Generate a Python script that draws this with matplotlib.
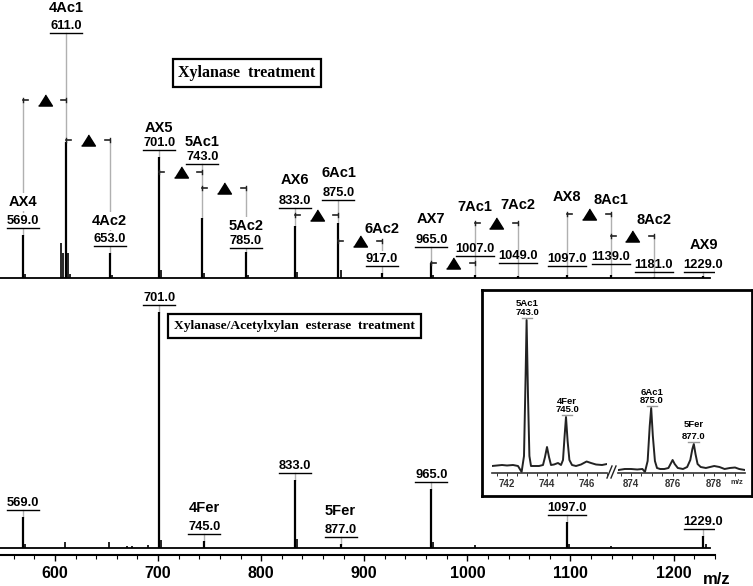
"""MALDI-TOF spectra of arabinoxylan oligomers: xylanase vs xylanase/acetylxylan esterase."""

import matplotlib.pyplot as plt
from matplotlib.ticker import MultipleLocator

plt.rcParams["font.family"] = ["Liberation Sans", "DejaVu Sans"]

# --- data ----------------------------------------------------------------
top_mz = [569, 611, 653, 701, 743, 785, 833, 875, 917, 965, 1007, 1049, 1097, 1139, 1181, 1229]
top_intensity = [43, 136, 25, 121, 60, 26, 52, 55, 5, 15, 3, 2, 3, 3, 1, 2]
top_names = ["AX4", "4Ac1", "4Ac2", "AX5", "5Ac1", "5Ac2", "AX6", "6Ac1",
             "6Ac2", "AX7", "7Ac1", "7Ac2", "AX8", "8Ac1", "8Ac2", "AX9"]
top_minor_mz = [571, 606, 607.5, 612.5, 615, 655, 703, 745, 787, 835, 877, 967]
top_minor_intensity = [4, 35, 25, 25, 4, 3, 8, 5, 3, 6, 8, 3]
acetyl_pairs = [(569, 611), (611, 653), (701, 743), (743, 785), (833, 875),
                (875, 917), (965, 1007), (1007, 1049), (1097, 1139), (1139, 1181)]

bottom_mz = [569, 701, 745, 833, 877, 965, 1097, 1229]
bottom_intensity = [31, 236, 7, 68, 4, 59, 26, 12]
bottom_names = ["", "", "4Fer", "", "5Fer", "", "", ""]
bottom_minor_mz = [571, 610, 652, 670, 675, 690, 703, 835, 967, 1007, 1099, 1139, 1231]
bottom_minor_intensity = [4, 6, 6, 2, 2, 3, 8, 9, 6, 3, 4, 2, 4]

inset_left_mz = [741.25, 741.5, 741.75, 742.0, 742.3, 742.55, 742.73, 742.85, 742.93,
                 742.98, 743.05, 743.12, 743.2, 743.4, 743.6, 743.8, 743.9, 744.0,
                 744.1, 744.2, 744.35, 744.55, 744.7, 744.8, 744.88, 744.95, 745.03,
                 745.12, 745.25, 745.45, 745.7, 745.98, 746.2, 746.45, 746.75, 747.0]
inset_left_signal = [0, 0.5, 1, 0.5, 1, 0, -6, 10, 90, 146, 70, 10, 0, 0, 0, 1, 9, 19,
                     9, 1, 1.5, 3, 1, 6, 30, 49, 25, 6, 1, 0, 1.5, 4.5, 3, 1.5, 1, 2]
inset_right_mz = [873.4, 873.7, 874.0, 874.3, 874.55, 874.67, 874.8, 874.9, 874.97,
                  875.05, 875.15, 875.25, 875.4, 875.6, 875.8, 875.9, 876.0, 876.1,
                  876.25, 876.5, 876.7, 876.85, 876.95, 877.02, 877.1, 877.2, 877.35,
                  877.6, 877.8, 878.0, 878.25, 878.5, 878.75, 879.0, 879.2, 879.48]
inset_right_signal = [-4, -3, -3, -3.5, -3, -6, 5, 40, 58, 30, 5, -2, -3, -3, -2, 2, 6, 2,
                      -2, -3, -1, 6, 17, 22, 12, 2, -1, -2, -1, 0, -1, -3, -2, -1.5, -3, -4]
inset_mz = [743, 745, 875, 877]
inset_names = ["5Ac1", "4Fer", "6Ac1", "5Fer"]

# --- layout (label heights, bracket heights) ------------------------------
top_name_y = [77, 271, 58, 151, 137, 53, 99, 106, 50, 60, 72, 74, 82, 79, 59, 34]
top_underline_y = [50, 245, 32, 128, 114, 30, 70, 78, 12, 31, 22, 15, 12, 14, 6, 6]
top_masked = [569, 653, 785, 917]
bracket_y = [178, 138, 106, 90, 63, 37, 15, 55, 64, 42]
inset_name_y = [160, 62, 71, 39]
inset_underline_y = [148, 51, 60, 24]

W, H = 753, 586
PX = 1.031  # pixels per m/z unit on the main axis
MASK = dict(facecolor="white", edgecolor="none", pad=1.5)


def fig_rect(x0, y0, x1, y1):
    """Pixel box (top-left origin) to figure-fraction rect."""
    return [x0 / W, 1 - y1 / H, (x1 - x0) / W, (y1 - y0) / H]


def draw_sticks(ax, mz, inten, minor_mz, minor_inten):
    ax.plot([546.7, 1235], [0, 0], color="black", lw=1.3, zorder=2)
    ax.vlines(mz, 0, inten, color="black", lw=1.6, zorder=2)
    ax.vlines(minor_mz, 0, minor_inten, color="black", lw=1.2, zorder=2)


def draw_label(ax, mz, y_under, name, name_base, mask=False, size=9.3, name_size=10.5):
    num = f"{mz:.1f}"
    half = (3 * len(num) + 1) / PX
    ax.plot([mz - half, mz + half], [y_under, y_under], color="black", lw=1.0, zorder=4)
    kw = dict(ha="center", va="baseline", fontweight="bold", zorder=3)
    if mask:
        kw["bbox"] = MASK
    ax.text(mz, y_under + 4, num, fontsize=size, **kw)
    if name:
        ax.text(mz, name_base, name, fontsize=name_size, **kw)


def draw_bracket(ax, left, right, y):
    d = 5 / PX
    ax.plot([left, left + d], [y, y], color="#222222", lw=1.2, zorder=3)
    ax.plot([right - d, right], [y, y], color="#222222", lw=1.2, zorder=3)
    ax.plot([left, left], [y - 2, y + 2], color="#222222", lw=1.0, zorder=3)
    ax.plot([right, right], [y - 2, y + 2], color="#222222", lw=1.0, zorder=3)
    tri = [(-1, -0.8), (1, -0.8), (0, 0.8)]
    ax.plot((left + right) / 2, y, marker=tri, ms=10, color="black", zorder=3)


fig = plt.figure(figsize=(W / 100, H / 100), dpi=100)

# top spectrum: xylanase treatment
ax_top = fig.add_axes(fig_rect(0, 0, 715, 285))
ax_top.set_xlim(546.7, 1240.2)
ax_top.set_ylim(-7, 278)
ax_top.axis("off")
draw_sticks(ax_top, top_mz, top_intensity, top_minor_mz, top_minor_intensity)
for mz, inten, name, ny, uy in zip(top_mz, top_intensity, top_names, top_name_y, top_underline_y):
    tops = [uy] + [by for (l, r), by in zip(acetyl_pairs, bracket_y) if mz in (l, r)]
    ax_top.plot([mz, mz], [inten, max(tops)], color="#b0b0b0", lw=1.0, zorder=1)
    draw_label(ax_top, mz, uy, name, ny - 5, mask=mz in top_masked)
for (left, right), by in zip(acetyl_pairs, bracket_y):
    draw_bracket(ax_top, left, right, by)
ax_top.text(786, 205, "Xylanase  treatment", family="Liberation Serif", fontweight="bold",
            fontsize=11.5, ha="center", va="center",
            bbox=dict(boxstyle="square,pad=0.35", fc="white", ec="black", lw=1.6))

# bottom spectrum: xylanase / acetylxylan esterase
ax_bot = fig.add_axes(fig_rect(0, 290, 715, 555))
ax_bot.set_xlim(546.7, 1240.2)
ax_bot.set_ylim(-7, 258)
for side in ["top", "left", "right"]:
    ax_bot.spines[side].set_visible(False)
ax_bot.spines["bottom"].set_linewidth(1.5)
ax_bot.set_yticks([])
ax_bot.xaxis.set_major_locator(MultipleLocator(100))
ax_bot.xaxis.set_minor_locator(MultipleLocator(20))
ax_bot.tick_params(axis="x", which="major", length=4, width=1.0, pad=4, labelsize=11.5)
ax_bot.tick_params(axis="x", which="minor", length=3, width=0.8)
for lbl in ax_bot.get_xticklabels():
    lbl.set_fontweight("bold")
draw_sticks(ax_bot, bottom_mz, bottom_intensity, bottom_minor_mz, bottom_minor_intensity)
for mz, inten, name in zip(bottom_mz, bottom_intensity, bottom_names):
    uy = inten + 7
    ax_bot.plot([mz, mz], [inten, uy], color="#b0b0b0", lw=1.0, zorder=1)
    draw_label(ax_bot, mz, uy, name, uy + 22)
ax_bot.text(832, 222, "Xylanase/Acetylxylan  esterase  treatment", family="Liberation Serif",
            fontweight="bold", fontsize=9.7, ha="center", va="center",
            bbox=dict(boxstyle="square,pad=0.45", fc="white", ec="black", lw=1.6))
fig.text(717 / W, 1 - 579 / H, "m/z", ha="center", va="center", fontsize=12, fontweight="bold")

# inset: zoom on 743/745 and 875/877
ax_frame = fig.add_axes(fig_rect(482, 290, 752, 496))
ax_frame.set_xticks([])
ax_frame.set_yticks([])
for sp in ax_frame.spines.values():
    sp.set_linewidth(2.0)
for dx in (0, 4):
    ax_frame.plot([(607 + dx - 482) / 270, (612 + dx - 482) / 270],
                  [(496 - 478) / 206, (496 - 466) / 206],
                  transform=ax_frame.transAxes, color="#222222", lw=1.0)
ax_frame.text((737 - 482) / 270, (496 - 482) / 206, "m/z", transform=ax_frame.transAxes,
              ha="center", va="center", fontsize=5.5, fontweight="bold", color="#333333")

segments = [
    (fig_rect(492, 300, 607, 473), (741.25, 747.0), inset_left_mz, inset_left_signal, [742, 744, 746]),
    (fig_rect(618, 300, 745, 473), (873.375, 879.48), inset_right_mz, inset_right_signal, [874, 876, 878]),
]
for rect, xlim, xs, ys, ticks in segments:
    ax_in = fig.add_axes(rect)
    ax_in.patch.set_alpha(0)
    ax_in.set_xlim(*xlim)
    ax_in.set_ylim(-7, 166)
    for side in ["top", "left", "right"]:
        ax_in.spines[side].set_visible(False)
    ax_in.spines["bottom"].set_linewidth(1.2)
    ax_in.spines["bottom"].set_color("#333333")
    ax_in.set_yticks([])
    ax_in.set_xticks(ticks)
    ax_in.xaxis.set_minor_locator(MultipleLocator(0.5))
    ax_in.tick_params(axis="x", which="both", length=2.5, width=0.7, pad=2,
                      labelsize=7, colors="#333333")
    for lbl in ax_in.get_xticklabels():
        lbl.set_fontweight("bold")
    ax_in.plot(xs, ys, color="#222222", lw=1.4)
    for mz, name, ny, uy in zip(inset_mz, inset_names, inset_name_y, inset_underline_y):
        if xlim[0] < mz < xlim[1]:
            ax_in.plot([mz - 0.25, mz + 0.25], [uy, uy], color="#999999", lw=1.0)
            ax_in.text(mz, uy + 3, f"{mz:.1f}", ha="center", va="baseline",
                       fontsize=6.8, fontweight="bold")
            ax_in.text(mz, ny, name, ha="center", va="baseline", fontsize=6.8, fontweight="bold")

fig.savefig("out.png", dpi=100)
